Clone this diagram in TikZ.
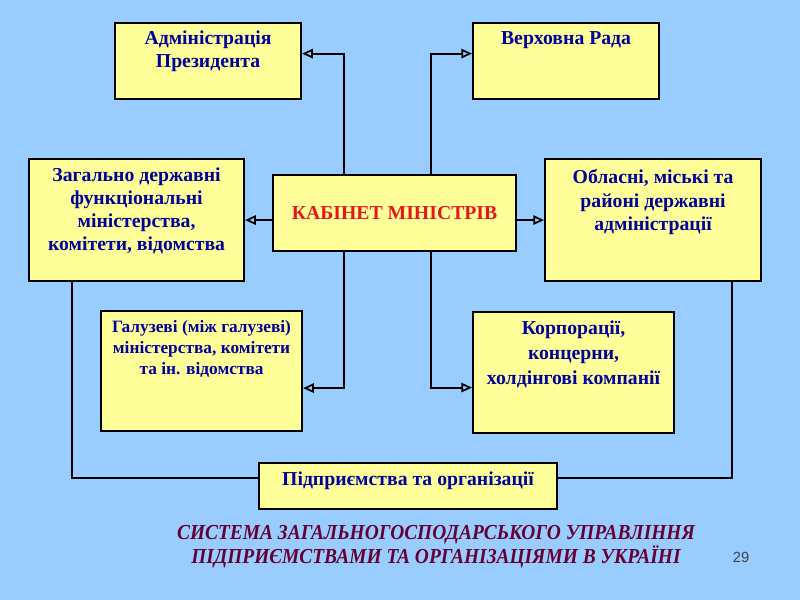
\documentclass[tikz,border=0pt]{standalone}
\usepackage{fontspec}
\setmainfont{Liberation Serif}
\newfontfamily\numfont{Liberation Sans}
\newfontfamily\titlefont[FakeStretch=0.91]{Liberation Serif}
\usetikzlibrary{arrows.meta}
\definecolor{bg}{HTML}{99CCFF}
\definecolor{boxfill}{HTML}{FFFF99}
\definecolor{txtblue}{HTML}{000099}
\definecolor{txtred}{HTML}{E8141E}
\definecolor{titlecol}{HTML}{660033}
\newcommand\btext[6]{\parbox[c][#2][t]{#1}{\fontsize{#6}{#4}\selectfont\centering\rule{0pt}{#3}#5\par}}
\begin{document}
\begin{tikzpicture}[x=0.75pt,y=-0.75pt,
 box/.style={draw=black, line width=1.6pt, fill=boxfill, inner sep=0pt, anchor=north west, text=txtblue, font=\bfseries\fontsize{14.8}{17.25}\selectfont},
 conn/.style={line width=1.6pt, black},
 arr/.style={conn, -{Triangle[open, length=8pt, width=7pt, line width=1.3pt]}}]
\fill[bg] (0,0) rectangle (800,600);
\useasboundingbox (0,0) rectangle (800,600);
\node[box] (adm) at (114,22) {\btext{139.5pt}{57pt}{16.25pt}{17.25pt}{Адміністрація\\Президента}{14.8}};
\node[box] (vr) at (472,22) {\btext{139.5pt}{57pt}{16.25pt}{17.25pt}{Верховна Рада}{14.8}};
\node[box] (zag) at (28,158) {\btext{161.25pt}{91.5pt}{17pt}{17.25pt}{Загально державні\\функціональні\\міністерства,\\комітети, відомства}{14.8}};
\node[box, minimum width=182.25pt, minimum height=57pt, text=txtred] (kab) at (272,174) {КАБІНЕТ МІНІСТРІВ};
\node[box] (obl) at (544,158) {\btext{162pt}{91.5pt}{18.5pt}{17.6pt}{Обласні, міські та\\районі державні\\адміністрації}{14.8}};
\node[box] (hal) at (100,310) {\btext{150.75pt}{90pt}{15.75pt}{15.75pt}{Галузеві (між галузеві)\\міністерства, комітети\\та ін. відомства}{13}};
\node[box] (kor) at (472,311) {\btext{150.75pt}{90.75pt}{17pt}{18.75pt}{Корпорації,\\концерни,\\холдінгові компанії}{14.8}};
\node[box] (pid) at (258,462) {\btext{223.5pt}{34.5pt}{16.75pt}{17.25pt}{Підприємства та організації}{14.8}};
\draw[arr] ([xshift=-37.9pt]kab.north) |- ([yshift=5.6pt]adm.east);
\draw[arr] ([xshift=27.4pt]kab.north) |- ([yshift=5.6pt]vr.west);
\draw[arr] (kab.west |- zag.east) -- (zag.east);
\draw[arr] (kab.east |- obl.west) -- (obl.west);
\draw[arr] ([xshift=-37.9pt]kab.south) |- ([yshift=-12.75pt]hal.east);
\draw[arr] ([xshift=27.4pt]kab.south) |- ([yshift=-11.25pt]kor.west);
\draw[conn] ([xshift=-48.4pt]zag.south) |- ([yshift=6pt]pid.west);
\draw[conn] ([xshift=59.25pt]obl.south) |- ([yshift=6pt]pid.east);
\node[font=\titlefont\bfseries\itshape\fontsize{16}{16.5}\selectfont, text=titlecol, align=center] (title) at (436,547) {СИСТЕМА ЗАГАЛЬНОГОСПОДАРСЬКОГО УПРАВЛІННЯ\\ПІДПРИЄМСТВАМИ ТА ОРГАНІЗАЦІЯМИ В УКРАЇНІ};
\node[font=\numfont\fontsize{11}{13}\selectfont, text=black!75] (pg) at (741,557) {29};
\end{tikzpicture}
\end{document}
